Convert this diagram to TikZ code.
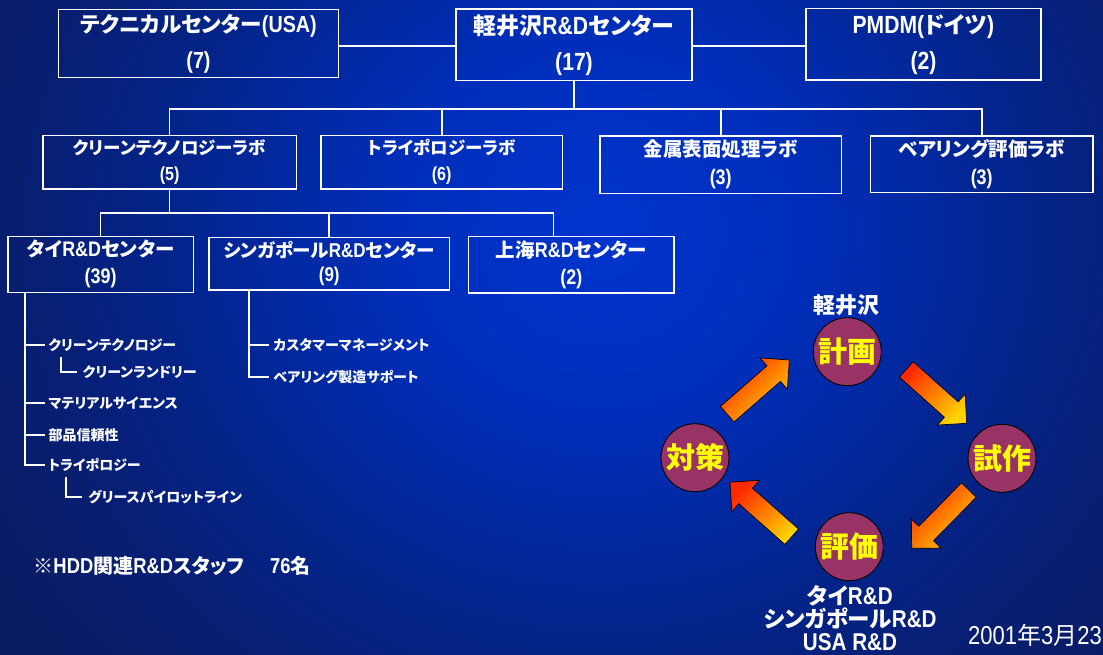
\documentclass[tikz,border=0pt]{standalone}
\usepackage{fontspec}
\setmainfont{Noto Sans CJK JP}[RawFeature=+palt]
\newfontfamily\la{Liberation Sans}[Scale=1.08, FakeStretch=0.85]
\newcommand\lt[1]{{\la #1}}
\usetikzlibrary{calc}
\definecolor{bgA}{RGB}{0,52,206}
\definecolor{bgB}{RGB}{0,46,185}
\definecolor{bgC}{RGB}{3,36,140}
\definecolor{bgD}{RGB}{8,30,112}
\definecolor{bgE}{RGB}{10,28,100}
\definecolor{phasecol}{RGB}{153,51,102}
\definecolor{arrR}{RGB}{255,40,0}
\definecolor{arrY}{RGB}{255,210,0}
\definecolor{phasetxt}{RGB}{255,255,0}
\pgfdeclareradialshading{bgshade}{\pgfpoint{0bp}{0bp}}{color(0bp)=(bgA); color(7.5bp)=(bgB); color(15bp)=(bgC); color(21bp)=(bgD); color(25bp)=(bgE); color(50bp)=(bgE)}
\newcommand\blockarrow[2]{%
  \coordinate (#2-n) at ($(#2)!20.7pt!(#1)$);
  \draw[barrow] ($(#1)!10.3pt!90:(#2)$) -- ($(#2-n)!10.3pt!90:(#2)$) -- ($(#2-n)!20.8pt!90:(#2)$) -- (#2) -- ($(#2-n)!20.8pt!-90:(#2)$) -- ($(#2-n)!10.3pt!-90:(#2)$) -- ($(#1)!10.3pt!-90:(#2)$) -- cycle;}
\begin{document}
\begin{tikzpicture}[x=1pt,y=-1pt,
  orgbox/.style={draw=white, line width=1.4pt, text=white, align=center, inner sep=0pt},
  topbox/.style={orgbox, font=\fontsize{23}{26}\selectfont\bfseries},
  labbox/.style={orgbox, font=\fontsize{19.5}{22}\selectfont\bfseries},
  conn/.style={draw=white, line width=1.6pt},
  tree/.style={draw=white, line width=1.8pt},
  treetxt/.style={text=white, anchor=west, inner sep=0pt, font=\fontsize{14}{16}\selectfont\bfseries},
  phase/.style={circle, fill=phasecol, draw=black, line width=0.9pt, minimum size=68pt, inner sep=0pt, text=phasetxt, font=\fontsize{29}{30}\selectfont\bfseries},
  barrow/.style={draw=black, line width=0.7pt, top color=arrR, bottom color=arrY, shading angle=45},
  plain/.style={text=white, inner sep=0pt}]
\useasboundingbox (0,0) rectangle (1103,655);
\begin{scope}
  \clip (0,0) rectangle (1103,655);
  \shade[shading=bgshade] (-100,-420) rectangle (1300,880);
\end{scope}

% top row
\node[topbox, font=\fontsize{21.5}{25}\selectfont\bfseries, minimum width=280pt, minimum height=68pt] (tc) at (198.5,43.3) {テクニカルセンター\lt{(USA)}\\[11pt]\lt{(7)}};
\node[topbox, minimum width=236pt, minimum height=71.7pt] (kr) at (574,44.8) {軽井沢\lt{R\&D}センター\\[10pt]\lt{(17)}};
\node[topbox, minimum width=235pt, minimum height=71.7pt] (pm) at (923.4,44.2) {\lt{PMDM(}ドイツ\lt{)}\\[10pt]\lt{(2)}};
\draw[conn] (tc.east |- 0,46) -- (kr.west |- 0,46);
\draw[conn] (kr.east |- 0,46) -- (pm.west |- 0,46);

% labs
\node[labbox, font=\fontsize{17.5}{21}\selectfont\bfseries, minimum width=253.6pt, minimum height=53.3pt] (l1) at (169.6,162.3) {クリーンテクノロジーラボ\\[5pt]\lt{(5)}};
\node[labbox, font=\fontsize{17.5}{21}\selectfont\bfseries, minimum width=241.3pt, minimum height=53.3pt] (l2) at (441.7,162.3) {トライポロジーラボ\\[5pt]\lt{(6)}};
\node[labbox, minimum width=241.4pt, minimum height=57.3pt] (l3) at (720.7,164.7) {金属表面処理ラボ\\[6pt]\lt{(3)}};
\node[labbox, minimum width=222.7pt, minimum height=56.7pt] (l4) at (981.7,164.3) {ベアリング評価ラボ\\[6pt]\lt{(3)}};
\coordinate (bus) at (574,109);
\draw[conn] (kr.south) -- (bus);
\draw[conn] (l1.north) |- (bus) -| (l4.north);
\draw[conn] (l2.north) -- (l2.north |- bus);
\draw[conn] (l3.north) -- (l3.north |- bus);

% centers
\node[labbox, minimum width=185.3pt, minimum height=56pt] (th) at (100.65,264.3) {タイ\lt{R\&D}センター\\[5pt]\lt{(39)}};
\node[labbox, font=\fontsize{18.5}{21}\selectfont\bfseries, minimum width=240.7pt, minimum height=52.7pt] (sg) at (329.25,263.65) {シンガポール\lt{R\&D}センター\\[3pt]\lt{(9)}};
\node[labbox, minimum width=205.4pt, minimum height=56.3pt] (sh) at (571.4,264.85) {上海\lt{R\&D}センター\\[5pt]\lt{(2)}};
\coordinate (bus2) at (l1.south |- 0,213.3);
\coordinate (shdrop) at (553.6,213.3);
\draw[conn] (l1.south) -- (bus2);
\draw[conn] (th.north) |- (shdrop) -- (shdrop |- sh.north);
\draw[conn] (sg.north) -- (sg.north |- bus2);

% Thai tree
\node[treetxt] (a1) at (48.3,345) {クリーンテクノロジー};
\node[treetxt] (a2) at (82.7,372.3) {クリーンランドリー};
\node[treetxt] (a3) at (48.3,403.3) {マテリアルサイエンス};
\node[treetxt] (a4) at (48.3,435) {部品信頼性};
\node[treetxt] (a5) at (48.3,465) {トライポロジー};
\node[treetxt] (a6) at (88.3,497.3) {グリースパイロットライン};
\coordinate (thtrunk) at ($(th.south west)+(18,0)$);
\draw[tree, shorten >=3.3pt] (thtrunk) |- (a5.west);
\foreach \n in {a1,a3,a4} \draw[tree, shorten >=3.3pt] (thtrunk |- \n.west) -- (\n.west);
\coordinate (a2root) at (60.7,356.7);
\draw[tree, shorten >=6pt] (a2root) |- (a2.west);
\coordinate (a6root) at (65.7,476.7);
\draw[tree, shorten >=6.6pt] (a6root) |- (a6.west);

% Singapore tree
\node[treetxt] (b1) at (273.3,345) {カスタマーマネージメント};
\node[treetxt] (b2) at (273.3,376.7) {ベアリング製造サポート};
\coordinate (sgtrunk) at ($(sg.south west)+(41.1,0)$);
\draw[tree, shorten >=4pt] (sgtrunk) |- (b2.west);
\draw[tree, shorten >=4pt] (sgtrunk |- b1.west) -- (b1.west);

% note
\node[plain, anchor=west, font=\fontsize{20}{24}\selectfont\bfseries] (note) at (33.3,566) {※\lt{HDD}関連\lt{R\&D}スタッフ};
\node[plain, anchor=west, font=\fontsize{20}{24}\selectfont\bfseries] (notenum) at (270,566) {\lt{76}名};

% cycle
\node[plain, font=\fontsize{22}{24}\selectfont\bfseries] (kz) at (846.7,305) {軽井沢};
\node[phase] (p1) at (847.3,351.7) {計画};
\node[phase] (p2) at (1002,458.3) {試作};
\node[phase] (p3) at (849.3,546.7) {評価};
\node[phase] (p4) at (695,457.7) {対策};
\coordinate (aAt) at (727.2,414.2); \coordinate (aAh) at (789.3,360);
\coordinate (aBt) at (906.3,369.5); \coordinate (aBh) at (966.7,423.3);
\coordinate (aCt) at (968.8,490);   \coordinate (aCh) at (911.7,548.3);
\coordinate (aDt) at (791.7,536.7); \coordinate (aDh) at (730,482.2);
\blockarrow{aAt}{aAh}
\blockarrow{aBt}{aBh}
\blockarrow{aCt}{aCh}
\blockarrow{aDt}{aDh}
\node[plain, align=center, font=\fontsize{22.5}{23}\selectfont\bfseries] (loc) at (850,618) {タイ\lt{R\&D}\\シンガポール\lt{R\&D}\\\lt{USA R\&D}};
\node[plain, anchor=west, font=\fontsize{24}{26}\selectfont] (date) at (968,635) {\lt{2001}年\lt{3}月\lt{23}};
\end{tikzpicture}
\end{document}
